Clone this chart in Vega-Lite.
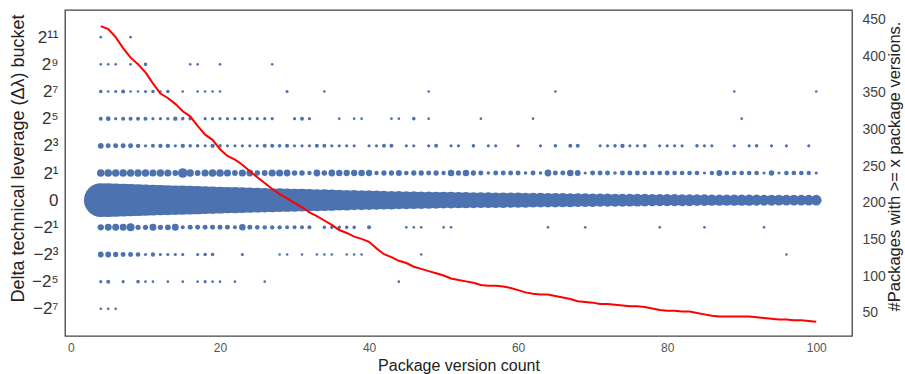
{
  "$schema": "https://vega.github.io/schema/vega-lite/v6.json",
  "width": 787,
  "height": 326,
  "autosize": {"type": "none"},
  "padding": {"left": 65, "top": 10, "right": 53, "bottom": 38},
  "background": "white",
  "config": {
    "view": {"stroke": "#444444", "strokeWidth": 1.3},
    "font": "Liberation Sans",
    "axis": {"grid": false, "domain": false, "ticks": false, "labelColor": "#444444", "titleColor": "#222222", "titleFontWeight": "normal"}
  },
  "datasets": {
    "bubbles": [
      {"versions":4,"bucket":6,"count":1},{"versions":8,"bucket":6,"count":1},
      {"versions":4,"bucket":5,"count":1},{"versions":5,"bucket":5,"count":1},{"versions":6,"bucket":5,"count":1},{"versions":8,"bucket":5,"count":1},{"versions":10,"bucket":5,"count":3},{"versions":16,"bucket":5,"count":1},{"versions":17,"bucket":5,"count":1},{"versions":20,"bucket":5,"count":1},{"versions":27,"bucket":5,"count":1},
      {"versions":4,"bucket":4,"count":3},{"versions":5,"bucket":4,"count":1},{"versions":6,"bucket":4,"count":2},{"versions":7,"bucket":4,"count":4},{"versions":8,"bucket":4,"count":1},{"versions":9,"bucket":4,"count":1},{"versions":10,"bucket":4,"count":2},{"versions":11,"bucket":4,"count":3},{"versions":12,"bucket":4,"count":1},{"versions":13,"bucket":4,"count":3},{"versions":15,"bucket":4,"count":1},{"versions":17,"bucket":4,"count":1},{"versions":18,"bucket":4,"count":1},{"versions":19,"bucket":4,"count":1},{"versions":20,"bucket":4,"count":1},{"versions":29,"bucket":4,"count":2},{"versions":34,"bucket":4,"count":1},{"versions":48,"bucket":4,"count":1},{"versions":65,"bucket":4,"count":1},{"versions":89,"bucket":4,"count":1},{"versions":100,"bucket":4,"count":1},
      {"versions":4,"bucket":3,"count":4},{"versions":5,"bucket":3,"count":6},{"versions":6,"bucket":3,"count":2},{"versions":7,"bucket":3,"count":4},{"versions":8,"bucket":3,"count":4},{"versions":9,"bucket":3,"count":4},{"versions":10,"bucket":3,"count":4},{"versions":11,"bucket":3,"count":2},{"versions":12,"bucket":3,"count":2},{"versions":13,"bucket":3,"count":2},{"versions":14,"bucket":3,"count":5},{"versions":15,"bucket":3,"count":3},{"versions":16,"bucket":3,"count":3},{"versions":18,"bucket":3,"count":2},{"versions":19,"bucket":3,"count":2},{"versions":20,"bucket":3,"count":2},{"versions":21,"bucket":3,"count":2},{"versions":22,"bucket":3,"count":2},{"versions":23,"bucket":3,"count":2},{"versions":24,"bucket":3,"count":2},{"versions":25,"bucket":3,"count":2},{"versions":26,"bucket":3,"count":2},{"versions":27,"bucket":3,"count":2},{"versions":30,"bucket":3,"count":2},{"versions":31,"bucket":3,"count":4},{"versions":32,"bucket":3,"count":2},{"versions":36,"bucket":3,"count":1},{"versions":38,"bucket":3,"count":1},{"versions":39,"bucket":3,"count":1},{"versions":43,"bucket":3,"count":1},{"versions":44,"bucket":3,"count":1},{"versions":46,"bucket":3,"count":3},{"versions":48,"bucket":3,"count":1},{"versions":55,"bucket":3,"count":1},{"versions":62,"bucket":3,"count":1},{"versions":90,"bucket":3,"count":1},
      {"versions":4,"bucket":2,"count":10},{"versions":5,"bucket":2,"count":7},{"versions":6,"bucket":2,"count":7},{"versions":7,"bucket":2,"count":7},{"versions":8,"bucket":2,"count":7},{"versions":9,"bucket":2,"count":5},{"versions":10,"bucket":2,"count":2},{"versions":11,"bucket":2,"count":4},{"versions":12,"bucket":2,"count":5},{"versions":13,"bucket":2,"count":5},{"versions":14,"bucket":2,"count":2},{"versions":15,"bucket":2,"count":5},{"versions":16,"bucket":2,"count":3},{"versions":17,"bucket":2,"count":3},{"versions":18,"bucket":2,"count":2},{"versions":19,"bucket":2,"count":5},{"versions":20,"bucket":2,"count":3},{"versions":21,"bucket":2,"count":2},{"versions":22,"bucket":2,"count":2},{"versions":23,"bucket":2,"count":2},{"versions":24,"bucket":2,"count":2},{"versions":25,"bucket":2,"count":2},{"versions":26,"bucket":2,"count":4},{"versions":27,"bucket":2,"count":4},{"versions":28,"bucket":2,"count":3},{"versions":29,"bucket":2,"count":4},{"versions":30,"bucket":2,"count":2},{"versions":31,"bucket":2,"count":2},{"versions":32,"bucket":2,"count":2},{"versions":33,"bucket":2,"count":4},{"versions":34,"bucket":2,"count":4},{"versions":35,"bucket":2,"count":2},{"versions":36,"bucket":2,"count":2},{"versions":37,"bucket":2,"count":2},{"versions":38,"bucket":2,"count":2},{"versions":40,"bucket":2,"count":2},{"versions":41,"bucket":2,"count":2},{"versions":42,"bucket":2,"count":4},{"versions":43,"bucket":2,"count":4},{"versions":45,"bucket":2,"count":2},{"versions":46,"bucket":2,"count":2},{"versions":48,"bucket":2,"count":2},{"versions":49,"bucket":2,"count":4},{"versions":51,"bucket":2,"count":2},{"versions":52,"bucket":2,"count":2},{"versions":54,"bucket":2,"count":3},{"versions":56,"bucket":2,"count":2},{"versions":57,"bucket":2,"count":2},{"versions":60,"bucket":2,"count":2},{"versions":63,"bucket":2,"count":2},{"versions":65,"bucket":2,"count":3},{"versions":67,"bucket":2,"count":4},{"versions":68,"bucket":2,"count":4},{"versions":71,"bucket":2,"count":2},{"versions":72,"bucket":2,"count":2},{"versions":73,"bucket":2,"count":3},{"versions":74,"bucket":2,"count":5},{"versions":75,"bucket":2,"count":2},{"versions":76,"bucket":2,"count":2},{"versions":77,"bucket":2,"count":3},{"versions":79,"bucket":2,"count":2},{"versions":80,"bucket":2,"count":2},{"versions":81,"bucket":2,"count":2},{"versions":82,"bucket":2,"count":2},{"versions":84,"bucket":2,"count":3},{"versions":85,"bucket":2,"count":2},{"versions":86,"bucket":2,"count":2},{"versions":89,"bucket":2,"count":2},{"versions":91,"bucket":2,"count":2},{"versions":92,"bucket":2,"count":3},{"versions":94,"bucket":2,"count":2},{"versions":96,"bucket":2,"count":2},{"versions":99,"bucket":2,"count":2},
      {"versions":4,"bucket":1,"count":18},{"versions":5,"bucket":1,"count":18},{"versions":6,"bucket":1,"count":17},{"versions":7,"bucket":1,"count":18},{"versions":8,"bucket":1,"count":17},{"versions":9,"bucket":1,"count":17},{"versions":10,"bucket":1,"count":17},{"versions":11,"bucket":1,"count":16},{"versions":12,"bucket":1,"count":17},{"versions":13,"bucket":1,"count":16},{"versions":14,"bucket":1,"count":10},{"versions":15,"bucket":1,"count":30},{"versions":16,"bucket":1,"count":17},{"versions":17,"bucket":1,"count":10},{"versions":18,"bucket":1,"count":16},{"versions":19,"bucket":1,"count":18},{"versions":20,"bucket":1,"count":18},{"versions":21,"bucket":1,"count":16},{"versions":22,"bucket":1,"count":10},{"versions":23,"bucket":1,"count":16},{"versions":24,"bucket":1,"count":14},{"versions":25,"bucket":1,"count":9},{"versions":26,"bucket":1,"count":10},{"versions":27,"bucket":1,"count":16},{"versions":28,"bucket":1,"count":16},{"versions":29,"bucket":1,"count":14},{"versions":30,"bucket":1,"count":9},{"versions":31,"bucket":1,"count":9},{"versions":32,"bucket":1,"count":5},{"versions":33,"bucket":1,"count":14},{"versions":34,"bucket":1,"count":9},{"versions":35,"bucket":1,"count":14},{"versions":36,"bucket":1,"count":13},{"versions":37,"bucket":1,"count":12},{"versions":38,"bucket":1,"count":12},{"versions":39,"bucket":1,"count":13},{"versions":40,"bucket":1,"count":12},{"versions":41,"bucket":1,"count":5},{"versions":42,"bucket":1,"count":8},{"versions":43,"bucket":1,"count":8},{"versions":44,"bucket":1,"count":11},{"versions":45,"bucket":1,"count":6},{"versions":46,"bucket":1,"count":8},{"versions":47,"bucket":1,"count":8},{"versions":48,"bucket":1,"count":7},{"versions":49,"bucket":1,"count":8},{"versions":50,"bucket":1,"count":5},{"versions":51,"bucket":1,"count":13},{"versions":52,"bucket":1,"count":8},{"versions":53,"bucket":1,"count":13},{"versions":54,"bucket":1,"count":8},{"versions":55,"bucket":1,"count":7},{"versions":56,"bucket":1,"count":3},{"versions":57,"bucket":1,"count":7},{"versions":58,"bucket":1,"count":7},{"versions":59,"bucket":1,"count":7},{"versions":60,"bucket":1,"count":7},{"versions":61,"bucket":1,"count":3},{"versions":62,"bucket":1,"count":7},{"versions":63,"bucket":1,"count":3},{"versions":64,"bucket":1,"count":14},{"versions":65,"bucket":1,"count":7},{"versions":66,"bucket":1,"count":7},{"versions":67,"bucket":1,"count":13},{"versions":68,"bucket":1,"count":10},{"versions":69,"bucket":1,"count":2},{"versions":70,"bucket":1,"count":7},{"versions":71,"bucket":1,"count":7},{"versions":72,"bucket":1,"count":7},{"versions":73,"bucket":1,"count":3},{"versions":74,"bucket":1,"count":7},{"versions":75,"bucket":1,"count":7},{"versions":76,"bucket":1,"count":7},{"versions":77,"bucket":1,"count":6},{"versions":78,"bucket":1,"count":6},{"versions":79,"bucket":1,"count":6},{"versions":80,"bucket":1,"count":7},{"versions":81,"bucket":1,"count":6},{"versions":82,"bucket":1,"count":6},{"versions":83,"bucket":1,"count":6},{"versions":84,"bucket":1,"count":6},{"versions":85,"bucket":1,"count":2},{"versions":86,"bucket":1,"count":5},{"versions":87,"bucket":1,"count":10},{"versions":88,"bucket":1,"count":6},{"versions":89,"bucket":1,"count":6},{"versions":90,"bucket":1,"count":6},{"versions":91,"bucket":1,"count":6},{"versions":92,"bucket":1,"count":6},{"versions":93,"bucket":1,"count":2},{"versions":94,"bucket":1,"count":9},{"versions":95,"bucket":1,"count":2},{"versions":96,"bucket":1,"count":6},{"versions":97,"bucket":1,"count":6},{"versions":98,"bucket":1,"count":6},{"versions":99,"bucket":1,"count":5},{"versions":100,"bucket":1,"count":2},
      {"versions":4,"bucket":0,"count":380},{"versions":5,"bucket":0,"count":378},{"versions":6,"bucket":0,"count":368},{"versions":7,"bucket":0,"count":356},{"versions":8,"bucket":0,"count":346},{"versions":9,"bucket":0,"count":338},{"versions":10,"bucket":0,"count":330},{"versions":11,"bucket":0,"count":318},{"versions":12,"bucket":0,"count":306},{"versions":13,"bucket":0,"count":300},{"versions":14,"bucket":0,"count":292},{"versions":15,"bucket":0,"count":284},{"versions":16,"bucket":0,"count":278},{"versions":17,"bucket":0,"count":268},{"versions":18,"bucket":0,"count":258},{"versions":19,"bucket":0,"count":252},{"versions":20,"bucket":0,"count":240},{"versions":21,"bucket":0,"count":232},{"versions":22,"bucket":0,"count":228},{"versions":23,"bucket":0,"count":222},{"versions":24,"bucket":0,"count":214},{"versions":25,"bucket":0,"count":207},{"versions":26,"bucket":0,"count":200},{"versions":27,"bucket":0,"count":193},{"versions":28,"bucket":0,"count":187},{"versions":29,"bucket":0,"count":182},{"versions":30,"bucket":0,"count":177},{"versions":31,"bucket":0,"count":172},{"versions":32,"bucket":0,"count":166},{"versions":33,"bucket":0,"count":161},{"versions":34,"bucket":0,"count":156},{"versions":35,"bucket":0,"count":151},{"versions":36,"bucket":0,"count":145},{"versions":37,"bucket":0,"count":141},{"versions":38,"bucket":0,"count":137},{"versions":39,"bucket":0,"count":134},{"versions":40,"bucket":0,"count":131},{"versions":41,"bucket":0,"count":124},{"versions":42,"bucket":0,"count":118},{"versions":43,"bucket":0,"count":114},{"versions":44,"bucket":0,"count":110},{"versions":45,"bucket":0,"count":107},{"versions":46,"bucket":0,"count":104},{"versions":47,"bucket":0,"count":101},{"versions":48,"bucket":0,"count":99},{"versions":49,"bucket":0,"count":96},{"versions":50,"bucket":0,"count":94},{"versions":51,"bucket":0,"count":92},{"versions":52,"bucket":0,"count":89},{"versions":53,"bucket":0,"count":87},{"versions":54,"bucket":0,"count":85},{"versions":55,"bucket":0,"count":82},{"versions":56,"bucket":0,"count":81},{"versions":57,"bucket":0,"count":80},{"versions":58,"bucket":0,"count":79},{"versions":59,"bucket":0,"count":78},{"versions":60,"bucket":0,"count":76},{"versions":61,"bucket":0,"count":74},{"versions":62,"bucket":0,"count":72},{"versions":63,"bucket":0,"count":71},{"versions":64,"bucket":0,"count":70},{"versions":65,"bucket":0,"count":69},{"versions":66,"bucket":0,"count":67},{"versions":67,"bucket":0,"count":65},{"versions":68,"bucket":0,"count":63},{"versions":69,"bucket":0,"count":61},{"versions":70,"bucket":0,"count":60},{"versions":71,"bucket":0,"count":58},{"versions":72,"bucket":0,"count":57},{"versions":73,"bucket":0,"count":56},{"versions":74,"bucket":0,"count":55},{"versions":75,"bucket":0,"count":54},{"versions":76,"bucket":0,"count":53},{"versions":77,"bucket":0,"count":52},{"versions":78,"bucket":0,"count":51},{"versions":79,"bucket":0,"count":49},{"versions":80,"bucket":0,"count":48},{"versions":81,"bucket":0,"count":48},{"versions":82,"bucket":0,"count":47},{"versions":83,"bucket":0,"count":47},{"versions":84,"bucket":0,"count":45},{"versions":85,"bucket":0,"count":44},{"versions":86,"bucket":0,"count":42},{"versions":87,"bucket":0,"count":41},{"versions":88,"bucket":0,"count":41},{"versions":89,"bucket":0,"count":41},{"versions":90,"bucket":0,"count":41},{"versions":91,"bucket":0,"count":41},{"versions":92,"bucket":0,"count":40},{"versions":93,"bucket":0,"count":39},{"versions":94,"bucket":0,"count":39},{"versions":95,"bucket":0,"count":38},{"versions":96,"bucket":0,"count":38},{"versions":97,"bucket":0,"count":38},{"versions":98,"bucket":0,"count":37},{"versions":99,"bucket":0,"count":37},{"versions":100,"bucket":0,"count":37},
      {"versions":4,"bucket":-1,"count":12},{"versions":5,"bucket":-1,"count":15},{"versions":6,"bucket":-1,"count":15},{"versions":7,"bucket":-1,"count":15},{"versions":8,"bucket":-1,"count":20},{"versions":9,"bucket":-1,"count":8},{"versions":10,"bucket":-1,"count":8},{"versions":11,"bucket":-1,"count":15},{"versions":12,"bucket":-1,"count":8},{"versions":13,"bucket":-1,"count":10},{"versions":14,"bucket":-1,"count":15},{"versions":15,"bucket":-1,"count":4},{"versions":16,"bucket":-1,"count":7},{"versions":17,"bucket":-1,"count":7},{"versions":18,"bucket":-1,"count":7},{"versions":19,"bucket":-1,"count":7},{"versions":20,"bucket":-1,"count":7},{"versions":21,"bucket":-1,"count":7},{"versions":22,"bucket":-1,"count":4},{"versions":23,"bucket":-1,"count":13},{"versions":24,"bucket":-1,"count":7},{"versions":25,"bucket":-1,"count":6},{"versions":26,"bucket":-1,"count":5},{"versions":27,"bucket":-1,"count":5},{"versions":28,"bucket":-1,"count":5},{"versions":29,"bucket":-1,"count":4},{"versions":30,"bucket":-1,"count":4},{"versions":31,"bucket":-1,"count":4},{"versions":32,"bucket":-1,"count":4},{"versions":34,"bucket":-1,"count":3},{"versions":35,"bucket":-1,"count":3},{"versions":36,"bucket":-1,"count":3},{"versions":37,"bucket":-1,"count":3},{"versions":38,"bucket":-1,"count":3},{"versions":40,"bucket":-1,"count":4},{"versions":45,"bucket":-1,"count":1},{"versions":46,"bucket":-1,"count":1},{"versions":47,"bucket":-1,"count":1},{"versions":50,"bucket":-1,"count":1},{"versions":51,"bucket":-1,"count":1},{"versions":64,"bucket":-1,"count":1},{"versions":69,"bucket":-1,"count":1},{"versions":79,"bucket":-1,"count":1},{"versions":85,"bucket":-1,"count":1},{"versions":93,"bucket":-1,"count":1},
      {"versions":4,"bucket":-2,"count":10},{"versions":5,"bucket":-2,"count":10},{"versions":6,"bucket":-2,"count":8},{"versions":7,"bucket":-2,"count":7},{"versions":8,"bucket":-2,"count":7},{"versions":9,"bucket":-2,"count":6},{"versions":10,"bucket":-2,"count":2},{"versions":11,"bucket":-2,"count":5},{"versions":12,"bucket":-2,"count":2},{"versions":13,"bucket":-2,"count":2},{"versions":14,"bucket":-2,"count":2},{"versions":15,"bucket":-2,"count":2},{"versions":17,"bucket":-2,"count":2},{"versions":18,"bucket":-2,"count":3},{"versions":19,"bucket":-2,"count":3},{"versions":23,"bucket":-2,"count":2},{"versions":28,"bucket":-2,"count":1},{"versions":29,"bucket":-2,"count":1},{"versions":31,"bucket":-2,"count":1},{"versions":33,"bucket":-2,"count":1},{"versions":34,"bucket":-2,"count":1},{"versions":35,"bucket":-2,"count":1},{"versions":37,"bucket":-2,"count":1},{"versions":38,"bucket":-2,"count":1},{"versions":39,"bucket":-2,"count":1},{"versions":47,"bucket":-2,"count":1},{"versions":96,"bucket":-2,"count":1},
      {"versions":4,"bucket":-3,"count":2},{"versions":5,"bucket":-3,"count":4},{"versions":7,"bucket":-3,"count":2},{"versions":9,"bucket":-3,"count":3},{"versions":10,"bucket":-3,"count":1},{"versions":11,"bucket":-3,"count":1},{"versions":13,"bucket":-3,"count":1},{"versions":15,"bucket":-3,"count":1},{"versions":17,"bucket":-3,"count":1},{"versions":18,"bucket":-3,"count":2},{"versions":19,"bucket":-3,"count":1},{"versions":20,"bucket":-3,"count":1},{"versions":22,"bucket":-3,"count":1},{"versions":26,"bucket":-3,"count":1},{"versions":44,"bucket":-3,"count":1},
      {"versions":4,"bucket":-4,"count":1},{"versions":5,"bucket":-4,"count":1},{"versions":6,"bucket":-4,"count":1}
    ],
    "packages": [
      {"versions":4,"packages":441},{"versions":5,"packages":437},{"versions":6,"packages":426},{"versions":7,"packages":411},{"versions":8,"packages":398},{"versions":9,"packages":389},{"versions":10,"packages":378},{"versions":11,"packages":363},{"versions":12,"packages":349},{"versions":13,"packages":343},{"versions":14,"packages":335},{"versions":15,"packages":325},{"versions":16,"packages":318},{"versions":17,"packages":305},{"versions":18,"packages":293},{"versions":19,"packages":286},{"versions":20,"packages":273},{"versions":21,"packages":264},{"versions":22,"packages":259},{"versions":23,"packages":252},{"versions":24,"packages":243},{"versions":25,"packages":235},{"versions":26,"packages":227},{"versions":27,"packages":219},{"versions":28,"packages":212},{"versions":29,"packages":206},{"versions":30,"packages":200},{"versions":31,"packages":194},{"versions":32,"packages":187},{"versions":33,"packages":182},{"versions":34,"packages":176},{"versions":35,"packages":170},{"versions":36,"packages":163},{"versions":37,"packages":159},{"versions":38,"packages":154},{"versions":39,"packages":151},{"versions":40,"packages":147},{"versions":41,"packages":138},{"versions":42,"packages":130},{"versions":43,"packages":126},{"versions":44,"packages":121},{"versions":45,"packages":118},{"versions":46,"packages":113},{"versions":47,"packages":110},{"versions":48,"packages":107},{"versions":49,"packages":104},{"versions":50,"packages":101},{"versions":51,"packages":97},{"versions":52,"packages":95},{"versions":53,"packages":93},{"versions":54,"packages":91},{"versions":55,"packages":88},{"versions":56,"packages":87},{"versions":57,"packages":87},{"versions":58,"packages":86},{"versions":59,"packages":84},{"versions":60,"packages":81},{"versions":61,"packages":78},{"versions":62,"packages":76},{"versions":63,"packages":75},{"versions":64,"packages":75},{"versions":65,"packages":73},{"versions":66,"packages":71},{"versions":67,"packages":69},{"versions":68,"packages":66},{"versions":69,"packages":65},{"versions":70,"packages":64},{"versions":71,"packages":62},{"versions":72,"packages":62},{"versions":73,"packages":61},{"versions":74,"packages":60},{"versions":75,"packages":59},{"versions":76,"packages":59},{"versions":77,"packages":58},{"versions":78,"packages":56},{"versions":79,"packages":54},{"versions":80,"packages":53},{"versions":81,"packages":53},{"versions":82,"packages":52},{"versions":83,"packages":52},{"versions":84,"packages":50},{"versions":85,"packages":48},{"versions":86,"packages":46},{"versions":87,"packages":45},{"versions":88,"packages":45},{"versions":89,"packages":45},{"versions":90,"packages":45},{"versions":91,"packages":45},{"versions":92,"packages":44},{"versions":93,"packages":43},{"versions":94,"packages":42},{"versions":95,"packages":41},{"versions":96,"packages":41},{"versions":97,"packages":40},{"versions":98,"packages":40},{"versions":99,"packages":39},{"versions":100,"packages":38}
    ]
  },
  "layer": [
    {
      "data": {"name": "bubbles"},
      "mark": {"type": "circle", "color": "#4C72B0", "opacity": 1},
      "encoding": {
        "x": {
          "field": "versions", "type": "quantitative",
          "scale": {"domain": [-0.8, 104.8], "nice": false, "zero": false},
          "axis": {"values": [0, 20, 40, 60, 80, 100], "title": "Package version count", "labelFontSize": 12, "labelPadding": 6, "labelColor": "#555555", "titleFontSize": 16, "titleBaseline": "middle", "titleY": 29.5}
        },
        "y": {
          "field": "bucket", "type": "quantitative",
          "scale": {"domain": [-5, 7], "nice": false, "zero": false},
          "axis": {
            "orient": "left",
            "values": [-4, -3, -2, -1, 0, 1, 2, 3, 4, 5, 6],
            "labelExpr": "(datum.value < 0 ? '−' : '') + ['0','2¹','2³','2⁵','2⁷','2⁹','2¹¹'][abs(datum.value)]",
            "labelFontSize": 17, "labelPadding": 7, "labelColor": "#333333",
            "title": "Delta technical leverage (Δλ) bucket", "titleFontSize": 18, "titleBaseline": "middle", "titleX": -47, "titleY": 148
          }
        },
        "size": {"field": "count", "type": "quantitative", "scale": {"domain": [0, 380], "range": [4, 1134], "zero": true}, "legend": null}
      }
    },
    {
      "data": {"name": "packages"},
      "mark": {"type": "line", "color": "#ff0000", "strokeWidth": 2},
      "encoding": {
        "x": {"field": "versions", "type": "quantitative"},
        "y": {
          "field": "packages", "type": "quantitative",
          "scale": {"domain": [18.5, 463], "nice": false, "zero": false},
          "axis": {"orient": "right", "values": [50, 100, 150, 200, 250, 300, 350, 400, 450], "labelFontSize": 14, "labelPadding": 10,
            "title": "#Packages with >= x package versions.", "titleFontSize": 16.5, "titleAngle": -90, "titleBaseline": "middle", "titleX": 42, "titleY": 156}
        }
      }
    }
  ],
  "resolve": {"scale": {"y": "independent"}}
}
